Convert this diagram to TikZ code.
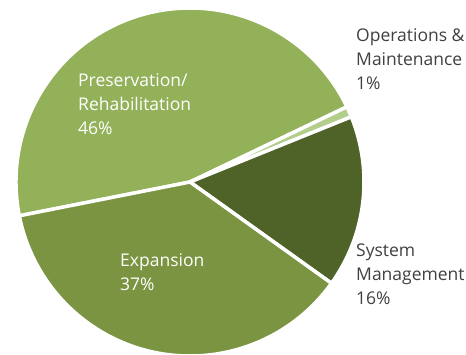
\documentclass[tikz,border=0pt]{standalone}
\usepackage{fontspec}
\setmainfont{Open Sans}
\definecolor{presgreen}{HTML}{93B159}
\definecolor{expgreen}{HTML}{7A9441}
\definecolor{sysgreen}{HTML}{4F6228}
\definecolor{opsgreen}{HTML}{B3CD8B}
\definecolor{labelgrey}{HTML}{404040}

\begin{document}
\begin{tikzpicture}[x=1pt,y=1pt,
  every node/.style={align=left,anchor=base west,inner sep=0pt,font=\fontsize{17.5}{24}\selectfont},
  slice/.style={draw=white,line width=3.5pt,line join=round}]
  \useasboundingbox (0,0) rectangle (466,354);
  \coordinate (c) at (190,172);

  \fill[presgreen,slice] (c) -- ++(191.2:174) arc[start angle=191.2,end angle=25.6,radius=174] -- cycle;
  \fill[opsgreen,slice] (c) -- ++(25.6:174) arc[start angle=25.6,end angle=22.0,radius=174] -- cycle;
  \fill[sysgreen,slice] (c) -- ++(22.0:174) arc[start angle=22.0,end angle=-35.6,radius=174] -- cycle;
  \fill[expgreen,slice] (c) -- ++(-35.6:174) arc[start angle=-35.6,end angle=-168.8,radius=174] -- cycle;

  % base anchor sits on the last line
  \node[white] (pres) at (78,219) {Preservation/\\Rehabilitation\\46\%};
  \node[white] (exp) at (120,64) {Expansion\\37\%};
  \node[labelgrey] (ops) at (356,264) {Operations \&\\Maintenance\\1\%};
  \node[labelgrey] (sys) at (356,50) {System\\Management\\16\%};
\end{tikzpicture}
\end{document}
